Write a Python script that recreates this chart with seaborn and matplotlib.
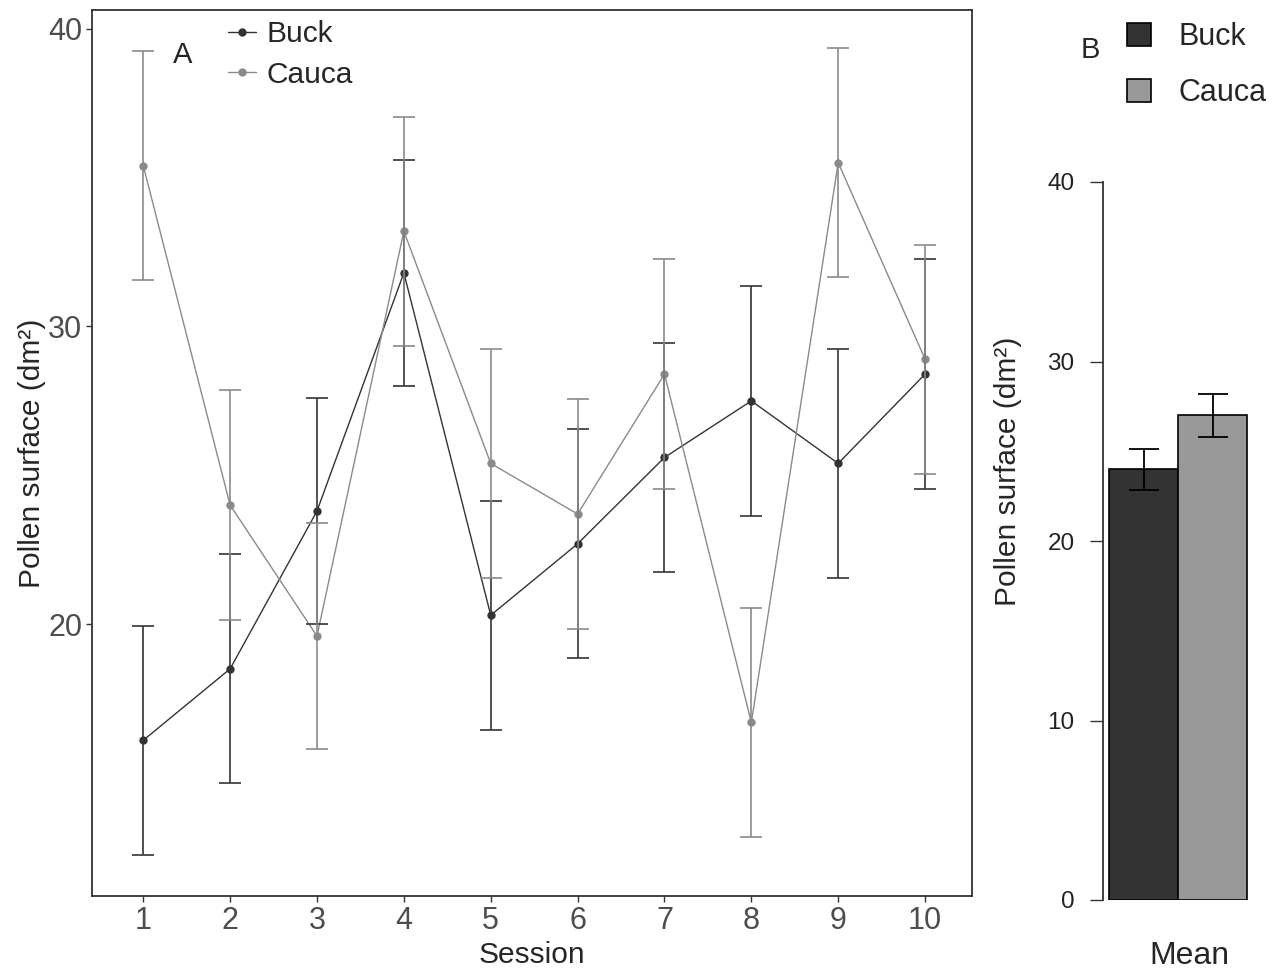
import pandas as pd
import matplotlib.pyplot as plt
import seaborn as sns
import numpy as np

# Data
sessions = [1, 2, 3, 4, 5, 6, 7, 8, 9, 10]
buck_mean = [16.1, 18.5, 23.8, 31.8, 20.3, 22.7, 25.6, 27.5, 25.4, 28.4]
buck_err = [3.85, 3.85, 3.8, 3.8, 3.85, 3.85, 3.85, 3.85, 3.85, 3.85]
cauca_mean = [35.4, 24.0, 19.6, 33.2, 25.4, 23.7, 28.4, 16.7, 35.5, 28.9]
cauca_err = [3.85, 3.85, 3.8, 3.85, 3.85, 3.85, 3.85, 3.85, 3.85, 3.85]

groups = ['Buck', 'Cauca']
overall_mean = [24.0, 27.0]
overall_err = [1.15, 1.2]

line_colors = {'Buck': '#333333', 'Cauca': '#8a8a8a'}
bar_colors = {'Buck': '#333333', 'Cauca': '#999999'}

sns.set_style('white')
plt.rcParams['font.family'] = ['Liberation Sans', 'DejaVu Sans']

df_sess = pd.DataFrame({
    'Session': sessions * 2,
    'value': buck_mean + cauca_mean,
    'err': buck_err + cauca_err,
    'group': ['Buck'] * len(sessions) + ['Cauca'] * len(sessions),
})
df_mean = pd.DataFrame({'stat': ['Mean'] * 2, 'value': overall_mean,
                        'err': overall_err, 'group': groups})

fig = plt.figure(figsize=(12.82, 9.74), dpi=100)

# ---- Panel A: per-session means
axA = fig.add_axes([92 / 1282, 78 / 974, 880 / 1282, 886 / 974])
sns.lineplot(data=df_sess, x='Session', y='value', hue='group', palette=line_colors,
             marker='o', markersize=6, markeredgewidth=0, linewidth=1, ax=axA)
for g in groups:
    sub = df_sess[df_sess['group'] == g]
    axA.errorbar(sub['Session'], sub['value'], yerr=sub['err'], fmt='none',
                 ecolor=line_colors[g], elinewidth=1.2, capsize=8, capthick=1.2)

axA.set_xlim(0.41, 10.54)
axA.set_ylim(10.87, 40.63)
axA.set_xticks(sessions)
axA.set_yticks([20, 30, 40])
for s in axA.spines.values():
    s.set_color('#333333')
    s.set_linewidth(1.3)
axA.tick_params(axis='both', which='both', direction='out', length=4, width=1,
                color='#333333', labelcolor='#4d4d4d', labelsize=22, pad=3,
                bottom=True, left=True)
axA.set_xlabel('Session', fontsize=21.5)
axA.xaxis.set_label_coords(0.5, -0.051)
axA.set_ylabel('Pollen surface (dm²)', fontsize=21.5)
axA.yaxis.set_label_coords(-0.052, 0.5)

h, l = axA.get_legend_handles_labels()
axA.legend(h, l, loc='upper left', bbox_to_anchor=(228 / 1282, 1 - 20 / 974),
           bbox_transform=fig.transFigure, frameon=False, fontsize=21.5,
           handlelength=0.95, handletextpad=0.35, labelspacing=0.43, borderpad=0,
           borderaxespad=0)
fig.text(183 / 1282, 1 - 55 / 974, 'A', fontsize=21, ha='center', va='center')

# ---- Panel B: overall mean
axB = fig.add_axes([1103 / 1282, 74 / 974, 153 / 1282, 718 / 974])
sns.barplot(data=df_mean, x='stat', y='value', hue='group', palette=bar_colors,
            width=0.8, edgecolor='black', linewidth=1.2, errorbar=None, ax=axB)
for bar, g in zip(axB.patches, groups):
    row = df_mean[df_mean['group'] == g].iloc[0]
    axB.errorbar(bar.get_x() + bar.get_width() / 2, row['value'], yerr=row['err'],
                 fmt='none', ecolor='black', elinewidth=1.3, capsize=11, capthick=1.3)

axB.set_xlim(-0.435, 0.45)
axB.set_ylim(0, 40)
axB.set_yticks([0, 10, 20, 30, 40])
axB.set_xticks([])
sns.despine(ax=axB, top=True, right=True, bottom=True)
axB.spines['left'].set_color('#333333')
axB.spines['left'].set_linewidth(1.3)
axB.tick_params(axis='y', direction='out', length=9.5, width=1, color='#333333',
                labelcolor='#222222', labelsize=17.5, pad=11, left=True)
axB.set_xlabel('Mean', fontsize=23)
axB.xaxis.set_label_coords(0.562, -0.057)
axB.set_ylabel('Pollen surface (dm²)', fontsize=21.5)
axB.yaxis.set_label_coords(-0.53, 0.597)

hb, lb = axB.get_legend_handles_labels()
axB.legend(hb, lb, loc='upper left', bbox_to_anchor=(1127 / 1282, 1 - 22 / 974),
           bbox_transform=fig.transFigure, frameon=False, fontsize=22,
           handlelength=0.78, handleheight=0.75, handletextpad=0.9,
           labelspacing=0.85, borderpad=0, borderaxespad=0)
fig.text(1090 / 1282, 1 - 50 / 974, 'B', fontsize=21, ha='center', va='center')

fig.savefig('out.png', dpi=100)
